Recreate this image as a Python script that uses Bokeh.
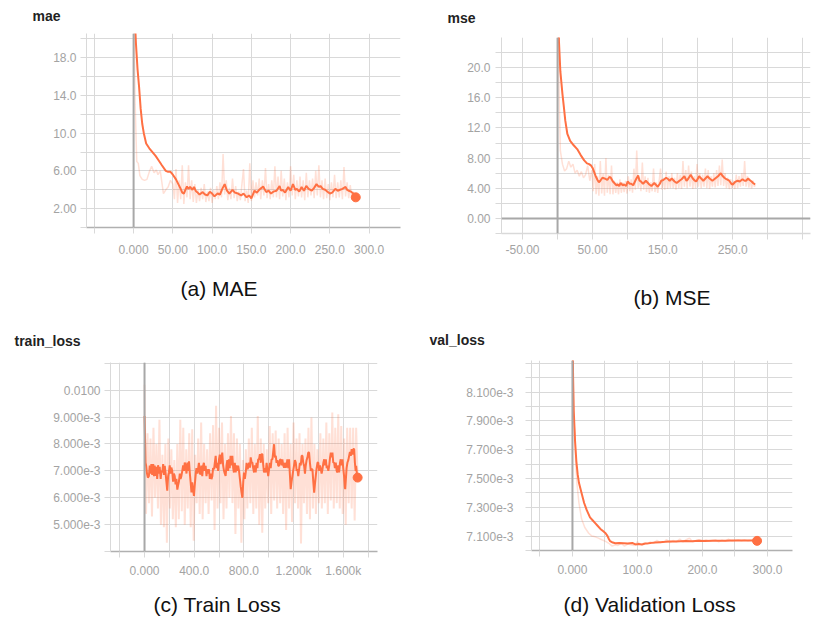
from bokeh.plotting import figure
from bokeh.models import Range1d, FixedTicker, CustomJSTickFormatter, Span, Title
from bokeh.layouts import column, row
from bokeh.embed import file_html
from bokeh.resources import INLINE

# ---------------- data ----------------
# (a) mae : (step, value)
mae_smooth = [(0, 25.0), (3, 19.5), (5, 16.8), (7, 14.9), (9, 12.6), (11, 11.0), (13, 10.0), (16, 8.9), (20, 8.4), (24, 8.0),
              (28, 7.6), (32, 7.1), (36, 6.6), (41, 6.0), (44, 5.9), (47, 5.9), (50, 5.6), (54, 5.1), (57, 4.6), (60, 4.1),
              (62, 3.7), (64, 3.6), (66, 4.0), (68, 4.35), (70, 4.1), (72, 4.3), (75, 4.0), (77, 4.3), (79, 3.9), (81, 3.75),
              (84, 3.5), (88, 3.75), (91, 3.5), (94, 3.4), (97, 3.8), (100, 3.6), (103, 3.3), (107, 3.6), (110, 3.5), (113, 4.1),
              (116, 4.6), (119, 3.9), (122, 3.6), (126, 4.0), (129, 3.7), (133, 3.6), (137, 3.4), (140, 3.6), (144, 3.2), (147, 3.4),
              (150, 3.1), (154, 3.9), (157, 3.7), (160, 4.0), (163, 4.2), (165, 4.35), (169, 3.75), (172, 3.9), (175, 3.6), (178, 3.8),
              (182, 3.9), (186, 4.4), (188, 3.9), (190, 4.0), (193, 3.7), (197, 4.3), (200, 3.9), (203, 4.6), (206, 4.0), (208, 4.1),
              (211, 3.8), (214, 4.3), (217, 3.9), (220, 4.4), (223, 4.1), (227, 3.9), (230, 4.2), (233, 4.6), (236, 4.3), (238, 4.4),
              (241, 4.1), (244, 4.0), (247, 3.8), (250, 3.6), (253, 3.7), (257, 4.1), (260, 3.9), (263, 4.0), (266, 4.1), (270, 4.3),
              (272, 4.0), (274, 3.9), (277, 3.8), (280, 3.6), (283, 3.2)]
mae_raw = [(0, 25.0), (2, 13.0), (4, 7.0), (6, 6.8), (8, 5.5), (11, 5.1), (14, 5.0), (17, 5.1), (20, 5.9), (23, 6.5),
           (26, 5.8), (29, 6.1), (31, 5.6), (34, 6.0), (36, 4.8), (38, 3.6), (41, 4.0), (44, 4.3), (47, 5.0), (50, 4.6),
           (52, 3.0), (54, 6.2), (56, 2.6), (58, 5.0), (60, 3.0), (62, 6.6), (64, 2.5), (66, 4.8), (68, 3.2), (70, 6.6),
           (72, 3.0), (74, 5.0), (76, 2.7), (78, 4.6), (80, 2.6), (82, 4.0), (84, 2.8), (86, 4.2), (88, 3.0), (90, 4.6),
           (92, 2.7), (94, 3.8), (96, 2.8), (98, 4.2), (100, 2.6), (102, 4.0), (104, 3.0), (106, 4.4), (108, 3.0), (110, 4.8),
           (112, 3.2), (114, 7.8), (116, 3.5), (118, 5.0), (120, 2.9), (122, 4.2), (124, 3.0), (126, 5.2), (128, 3.1), (130, 4.4),
           (132, 2.8), (134, 3.8), (136, 2.9), (138, 4.6), (140, 6.2), (142, 2.8), (144, 3.9), (146, 2.6), (148, 6.8), (150, 2.8),
           (152, 5.0), (154, 3.2), (156, 4.8), (158, 3.4), (160, 5.2), (162, 3.0), (164, 5.0), (166, 3.4), (168, 6.3), (170, 3.1),
           (172, 4.6), (174, 3.0), (176, 5.0), (178, 3.2), (180, 6.5), (182, 3.2), (184, 5.4), (186, 3.0), (188, 6.0), (190, 3.3),
           (192, 5.2), (194, 2.9), (196, 4.8), (198, 3.2), (200, 6.5), (202, 3.4), (204, 5.6), (206, 3.0), (208, 5.0), (210, 3.3),
           (212, 5.4), (214, 3.2), (216, 5.0), (218, 2.9), (220, 5.8), (222, 3.2), (224, 5.0), (226, 3.4), (228, 5.2), (230, 3.1),
           (232, 6.0), (234, 3.4), (236, 6.6), (238, 3.2), (240, 5.0), (242, 3.0), (244, 5.2), (246, 3.1), (248, 4.6), (250, 2.9),
           (252, 4.8), (254, 3.2), (256, 5.6), (258, 3.1), (260, 4.8), (262, 3.2), (264, 5.0), (266, 3.0), (268, 6.4), (270, 3.3),
           (272, 4.8), (274, 3.1), (276, 4.5), (278, 3.0), (280, 3.8), (282, 3.1), (283, 3.2)]

# (b) mse
mse_smooth = [(0, 35.0), (2, 23.5), (4, 19.5), (7, 16.5), (9, 14.8), (11, 13.0), (14, 11.2), (18, 10.3), (23, 9.7), (28, 9.2),
              (33, 8.4), (38, 7.7), (42, 7.3), (45, 7.2), (48, 7.0), (50, 6.7), (54, 5.7), (57, 5.1), (59, 4.8), (61, 5.0),
              (64, 5.4), (67, 5.3), (71, 5.1), (74, 5.5), (76, 5.4), (79, 4.9), (81, 4.7), (84, 4.4), (86, 4.5), (88, 4.3),
              (90, 4.7), (93, 4.4), (95, 4.5), (98, 4.3), (100, 4.9), (103, 4.6), (105, 4.6), (108, 4.4), (112, 5.2), (115, 5.7),
              (117, 5.0), (119, 4.9), (122, 4.6), (126, 5.0), (128, 4.8), (131, 4.5), (134, 4.3), (138, 4.7), (141, 4.4), (143, 4.2),
              (146, 4.6), (148, 5.0), (151, 5.1), (155, 5.4), (158, 5.2), (160, 5.0), (163, 5.3), (167, 4.9), (170, 4.7), (174, 5.0),
              (177, 5.2), (181, 5.6), (184, 5.0), (186, 5.2), (190, 5.8), (193, 5.3), (196, 5.0), (198, 4.9), (202, 5.6), (205, 5.3),
              (208, 5.0), (210, 5.2), (214, 5.6), (217, 5.3), (221, 5.0), (225, 5.3), (229, 5.6), (233, 6.0), (235, 5.7), (238, 5.4),
              (241, 5.2), (245, 5.0), (248, 4.6), (250, 4.5), (253, 4.8), (257, 5.0), (260, 4.9), (264, 5.2), (267, 5.0), (269, 5.0),
              (272, 5.3), (274, 5.1), (277, 4.9), (279, 4.7), (282, 4.5)]
mse_raw = [(0, 35.0), (2, 18.0), (4, 9.0), (7, 7.2), (10, 6.3), (13, 6.6), (16, 7.6), (19, 6.8), (22, 7.2), (25, 6.0),
           (28, 6.4), (31, 5.6), (34, 6.2), (37, 5.4), (40, 5.8), (43, 7.0), (46, 5.0), (49, 6.4), (51, 3.6), (53, 7.2),
           (55, 3.2), (57, 5.6), (59, 3.0), (61, 7.6), (63, 3.3), (65, 6.0), (67, 3.0), (69, 8.0), (71, 3.4), (73, 5.8),
           (75, 3.2), (77, 7.0), (79, 3.2), (81, 5.0), (83, 3.4), (85, 4.8), (87, 3.2), (89, 5.2), (91, 3.4), (93, 4.8),
           (95, 3.5), (97, 5.0), (99, 3.3), (101, 5.6), (103, 3.6), (105, 5.2), (107, 3.4), (109, 6.6), (111, 3.8), (113, 9.0),
           (115, 4.0), (117, 5.4), (119, 3.6), (121, 7.4), (123, 3.8), (125, 5.6), (127, 3.5), (129, 5.4), (131, 3.4), (133, 4.8),
           (135, 3.6), (137, 6.6), (139, 3.5), (141, 4.8), (143, 3.4), (145, 5.0), (147, 6.6), (149, 3.8), (151, 5.4), (153, 3.8),
           (155, 6.2), (157, 3.9), (159, 5.6), (161, 4.0), (163, 6.0), (165, 4.0), (167, 5.4), (169, 3.8), (171, 6.0), (173, 4.0),
           (175, 5.8), (177, 3.9), (179, 7.6), (181, 4.2), (183, 6.4), (185, 4.0), (187, 7.0), (189, 4.2), (191, 6.2), (193, 3.9),
           (195, 5.6), (197, 4.0), (199, 7.2), (201, 4.2), (203, 6.0), (205, 4.0), (207, 5.8), (209, 4.2), (211, 6.6), (213, 4.0),
           (215, 6.4), (217, 3.9), (219, 5.6), (221, 4.2), (223, 6.0), (225, 4.1), (227, 6.4), (229, 4.3), (231, 7.0), (233, 4.4),
           (235, 7.8), (237, 4.3), (239, 6.0), (241, 4.0), (243, 5.4), (245, 3.9), (247, 5.2), (249, 4.0), (251, 5.0), (253, 3.9),
           (255, 5.8), (257, 4.0), (259, 5.6), (261, 4.2), (263, 6.0), (265, 4.3), (267, 7.6), (269, 4.2), (271, 5.6), (273, 4.1),
           (275, 5.2), (277, 4.0), (279, 5.0), (281, 4.2), (282, 4.5)]

# (c) train_loss, values in units of 1e-3
train_smooth_e3 = [(0, 9.04), (4, 8.2), (8, 7.3), (13, 7.19), (20, 6.9), (27, 6.75), (35, 6.8), (42, 7.2), (50, 6.9), (55, 7.25),
    (62, 6.85), (70, 7.25), (76, 6.8), (82, 7.2), (89, 6.81), (96, 7.15), (102, 6.7), (109, 7.21), (116, 6.9), (122, 7.15),
    (130, 6.7), (136, 7.0), (143, 6.94), (150, 7.25), (156, 6.85), (163, 7.19), (170, 6.9), (176, 6.6), (183, 6.26), (190, 6.8),
    (196, 6.94), (203, 7.2), (210, 6.9), (216, 7.12), (223, 7.0), (230, 6.6), (237, 6.9), (243, 6.81), (250, 6.5), (257, 6.7),
    (264, 6.3), (270, 6.45), (277, 6.6), (284, 6.9), (290, 6.7), (297, 6.81), (304, 7.0), (311, 7.2), (318, 7.0), (324, 7.31),
    (331, 7.19), (338, 6.9), (345, 7.31), (351, 7.0), (358, 7.35), (365, 6.9), (371, 6.6), (378, 6.2), (384, 6.57), (391, 6.3),
    (398, 6.07), (405, 6.5), (411, 6.81), (418, 7.1), (425, 6.9), (431, 7.06), (438, 7.3), (445, 6.9), (452, 6.88), (458, 7.2),
    (465, 6.8), (472, 7.19), (478, 7.3), (485, 7.0), (492, 7.19), (499, 6.8), (505, 7.06), (512, 6.9), (519, 7.06), (526, 6.7),
    (532, 6.9), (539, 6.69), (546, 6.8), (552, 7.1), (560, 7.06), (566, 7.3), (573, 7.56), (580, 7.1), (586, 7.3), (593, 7.0),
    (600, 7.43), (606, 7.6), (613, 7.25), (620, 7.5), (626, 7.68), (633, 7.2), (640, 7.0), (646, 6.9), (653, 6.81), (660, 7.2),
    (667, 7.4), (673, 7.0), (680, 7.43), (686, 7.1), (693, 7.56), (700, 7.2), (707, 7.56), (714, 7.1), (720, 6.94), (727, 7.3),
    (734, 6.94), (740, 7.2), (747, 7.0), (754, 7.19), (761, 7.0), (768, 6.7), (775, 6.4), (781, 6.2), (788, 6.0), (795, 6.6),
    (801, 6.94), (808, 6.7), (815, 6.94), (822, 7.3), (828, 7.06), (835, 7.12), (842, 7.3), (849, 7.12), (855, 7.5), (862, 7.31),
    (868, 7.31), (875, 7.1), (882, 6.94), (889, 7.2), (895, 6.94), (902, 7.3), (909, 7.1), (915, 7.43), (922, 7.43), (929, 7.62),
    (936, 7.3), (942, 7.62), (949, 7.62), (956, 7.2), (962, 6.94), (969, 7.1), (976, 6.94), (983, 7.3), (989, 7.06), (996, 6.8),
    (1003, 7.06), (1010, 7.3), (1016, 7.1), (1023, 7.43), (1030, 7.43), (1036, 7.7), (1043, 7.99), (1050, 7.5), (1057, 7.56), (1063, 7.3),
    (1070, 7.4), (1077, 7.19), (1083, 7.19), (1090, 7.4), (1097, 7.43), (1103, 7.2), (1110, 7.43), (1117, 7.2), (1124, 7.12), (1130, 7.3),
    (1137, 7.12), (1144, 7.2), (1150, 7.43), (1157, 7.1), (1164, 7.43), (1170, 6.9), (1177, 6.32), (1184, 6.6), (1191, 6.81), (1197, 7.0),
    (1204, 7.2), (1211, 7.4), (1218, 7.31), (1225, 7.0), (1231, 7.06), (1238, 6.8), (1245, 7.06), (1251, 7.3), (1258, 7.2), (1265, 7.56),
    (1272, 7.56), (1278, 7.3), (1285, 7.19), (1292, 6.9), (1298, 7.19), (1305, 7.4), (1312, 7.5), (1318, 7.68), (1325, 7.68), (1332, 7.3),
    (1339, 7.0), (1345, 7.06), (1352, 7.06), (1359, 6.6), (1366, 6.19), (1372, 6.5), (1379, 6.81), (1386, 7.1), (1393, 7.3), (1399, 7.31),
    (1406, 7.0), (1413, 7.2), (1420, 7.06), (1426, 6.9), (1433, 7.06), (1440, 7.3), (1447, 7.43), (1453, 7.2), (1460, 7.43), (1467, 7.1),
    (1473, 7.19), (1480, 7.0), (1487, 7.19), (1494, 7.5), (1500, 7.68), (1507, 7.5), (1513, 7.68), (1520, 7.3), (1527, 7.31), (1533, 7.1),
    (1540, 7.31), (1547, 7.0), (1554, 6.94), (1560, 7.2), (1567, 6.94), (1574, 7.3), (1580, 7.43), (1587, 7.2), (1594, 7.43), (1600, 7.1),
    (1607, 6.8), (1613, 6.4), (1616, 6.32), (1620, 6.6), (1627, 7.1), (1634, 7.31), (1641, 7.4), (1648, 7.56), (1654, 7.7), (1661, 7.56),
    (1668, 7.81), (1674, 7.6), (1681, 7.81), (1688, 7.81), (1694, 7.3), (1700, 7.0), (1704, 7.19), (1710, 6.9), (1716, 6.75)]
train_raw_steps = list(range(0, 1717, 12))
train_raw_e3 = [10.2, 5.4, 8.4, 5.8, 8.2, 5.3, 8.6, 6.0, 8.0, 5.6,
                8.9, 5.0, 7.6, 4.9, 8.0, 4.33, 8.2, 5.6, 7.8, 5.2,
                7.4, 4.9, 8.0, 5.2, 8.9, 5.5, 8.6, 5.0, 7.8, 5.6,
                8.4, 4.9, 8.55, 4.4, 7.6, 5.8, 8.2, 5.4, 8.8, 5.2,
                8.0, 5.8, 7.8, 5.4, 8.4, 5.9, 8.7, 4.8, 9.42, 5.6,
                8.6, 5.8, 8.8, 5.2, 8.0, 5.6, 8.4, 6.0, 9.04, 5.8,
                8.4, 4.65, 8.2, 5.6, 8.0, 4.33, 7.4, 5.2, 7.8, 5.6,
                8.2, 5.8, 8.6, 5.4, 8.0, 5.6, 9.04, 5.0, 8.2, 4.7,
                8.0, 5.6, 7.8, 5.8, 8.67, 5.4, 8.4, 5.9, 8.5, 5.6,
                8.2, 5.8, 8.0, 5.4, 8.4, 4.8, 8.6, 5.6, 8.0, 5.1,
                8.8, 5.8, 8.2, 5.6, 8.4, 4.3, 8.0, 5.8, 8.2, 5.4,
                8.6, 5.2, 8.98, 5.6, 8.0, 5.4, 7.8, 5.8, 8.4, 5.6,
                8.2, 5.8, 8.8, 5.4, 8.4, 5.9, 9.17, 5.6, 8.6, 5.8,
                9.1, 5.6, 8.67, 5.4, 8.2, 5.0, 8.6, 5.8, 8.6, 5.6,
                8.6, 5.15, 8.6, 6.75]

# (d) val_loss, values in units of 1e-3
val_smooth_e3 = [(0, 8.60), (1, 8.20), (2, 7.97), (4, 7.76), (6, 7.62), (8, 7.53), (10, 7.47), (14, 7.40), (18, 7.33), (22, 7.28),
                 (27, 7.23), (31, 7.21), (35, 7.19), (39, 7.17), (43, 7.15), (47, 7.135), (51, 7.12), (54, 7.10), (56, 7.08), (58, 7.065),
                 (62, 7.055), (66, 7.05), (72, 7.052), (79, 7.05), (85, 7.048), (92, 7.052), (97, 7.042), (102, 7.045), (107, 7.042), (112, 7.048),
                 (117, 7.05), (122, 7.053), (127, 7.055), (135, 7.058), (143, 7.06), (150, 7.062), (158, 7.063), (166, 7.065), (174, 7.066), (184, 7.065),
                 (194, 7.067), (204, 7.066), (215, 7.068), (225, 7.067), (235, 7.068), (245, 7.069), (256, 7.07), (266, 7.069), (277, 7.07), (284, 7.067)]
val_raw_e3 = [(0, 8.60), (1, 8.18), (2, 7.90), (4, 7.81), (5, 7.60), (7, 7.46), (10, 7.33), (14, 7.22), (19, 7.16), (25, 7.12),
              (30, 7.10), (35, 7.095), (40, 7.086), (45, 7.075), (51, 7.063), (56, 7.05), (61, 7.03), (66, 7.04), (70, 7.035), (75, 7.05),
              (80, 7.03), (85, 7.045), (90, 7.04), (95, 7.035), (100, 7.06), (105, 7.04), (110, 7.05), (115, 7.045), (120, 7.06), (125, 7.05),
              (130, 7.07), (135, 7.055), (140, 7.06), (145, 7.075), (150, 7.055), (155, 7.07), (160, 7.06), (165, 7.08), (170, 7.06), (175, 7.075),
              (180, 7.085), (185, 7.06), (190, 7.07), (195, 7.075), (200, 7.065), (205, 7.075), (210, 7.065), (215, 7.07), (220, 7.075), (225, 7.06),
              (230, 7.072), (235, 7.065), (240, 7.078), (245, 7.065), (250, 7.07), (255, 7.075), (260, 7.068), (265, 7.074), (270, 7.067), (275, 7.072),
              (280, 7.07), (284, 7.067)]

E3 = 1e-3

# tick positions
mae_x_ticks, mae_x_minor = [0, 50, 100, 150, 200, 250, 300], [-50]
mae_y_ticks, mae_y_minor = [2, 6, 10, 14, 18], [0, 4, 8, 12, 16, 20]
mse_x_ticks, mse_x_minor = [-50, 50, 150, 250], [0, 100, 200, 300, 350]
mse_y_ticks, mse_y_minor = [0, 4, 8, 12, 16, 20], [-2, 2, 6, 10, 14, 18, 22]
train_x_ticks, train_x_minor = [0, 400, 800, 1200, 1600], [-200, 200, 600, 1000, 1400, 1800]
train_y_ticks = [5e-3, 6e-3, 7e-3, 8e-3, 9e-3, 10e-3]
train_y_minor = [4e-3, 11e-3]
val_x_ticks, val_x_minor = [0, 100, 200, 300], [-50, 50, 150, 250]
val_y_ticks = [7.1e-3, 7.3e-3, 7.5e-3, 7.7e-3, 7.9e-3, 8.1e-3]
val_y_minor = [7.0e-3, 7.2e-3, 7.4e-3, 7.6e-3, 7.8e-3, 8.0e-3, 8.2e-3, 8.3e-3]

# ---------------- styling ----------------
LINE = "#ff7043"
GRID = "#d9d9d9"
ZERO = "#a8a8a8"
TICK_TXT = "#a3a3a3"
FONT = "Liberation Sans"

fmt4 = CustomJSTickFormatter(code="return tick.toPrecision(4);")
fmt3 = CustomJSTickFormatter(code="return tick.toPrecision(3);")
fmtk = CustomJSTickFormatter(code="return Math.abs(tick) >= 1000 ? (tick/1000).toPrecision(4) + 'k' : tick.toPrecision(4);")
fmte3 = CustomJSTickFormatter(code="return tick >= 0.00999 ? tick.toPrecision(3) : (tick*1000).toFixed(3) + 'e-3';")


def unzip(pairs, scale=1.0):
    return [p[0] for p in pairs], [p[1] * scale for p in pairs]


def make_panel(width, height, borders, xr, yr, xt, xm, yt, ym, xfmt, yfmt, xstand, ystand, base_color,
               name, name_off, name_standoff, caption, cap_off, cap_gap):
    left, right, top, bottom = borders
    p = figure(width=width, height=height, x_range=Range1d(*xr), y_range=Range1d(*yr),
               output_backend="svg", toolbar_location=None, title=name,
               min_border_left=left, min_border_right=right, min_border_top=top, min_border_bottom=bottom)
    p.frame_align = False
    p.outline_line_color = None
    # panel name (top-left)
    p.title.text_font = FONT
    p.title.text_font_size = "14px"
    p.title.text_font_style = "bold"
    p.title.text_color = "#222222"
    p.title.align = "left"
    p.title.offset = name_off
    p.title.vertical_align = "top"
    p.title.standoff = name_standoff
    # axes
    p.xaxis.ticker = FixedTicker(ticks=xt, minor_ticks=xm)
    p.yaxis.ticker = FixedTicker(ticks=yt, minor_ticks=ym)
    p.xaxis.formatter = xfmt
    p.yaxis.formatter = yfmt
    for ax in (p.xaxis[0], p.yaxis[0]):
        ax.major_tick_in = 0
        ax.major_tick_out = 6
        ax.minor_tick_in = 0
        ax.minor_tick_out = 6
        ax.major_tick_line_color = GRID
        ax.minor_tick_line_color = GRID
        ax.major_label_text_font = FONT
        ax.major_label_text_font_size = "12px"
        ax.major_label_text_color = TICK_TXT
    p.xaxis.major_label_standoff = xstand
    p.yaxis.major_label_standoff = ystand
    p.xaxis.axis_line_color = base_color
    p.xaxis.axis_line_width = 1.5
    p.yaxis.axis_line_color = GRID
    for g in (p.xgrid[0], p.ygrid[0]):
        g.grid_line_color = GRID
        g.minor_grid_line_color = GRID
        g.grid_line_width = 1
    p.add_layout(Span(location=0, dimension="height", line_color=ZERO, line_width=2))
    # blank spacer, then the caption below it
    p.add_layout(Title(text=" ", text_font_size="1px", standoff=cap_gap), "below")
    p.add_layout(Title(text=caption, align="left", offset=cap_off, vertical_align="bottom", standoff=0,
                       text_font=FONT, text_font_size="21px", text_font_style="normal",
                       text_color="#111111"), "below")
    return p


def add_series(p, raw_x, raw_y, sm_x, sm_y, raw_width=1.5, dot=True):
    p.line(raw_x, raw_y, line_color=LINE, line_alpha=0.22, line_width=raw_width)
    p.line(sm_x, sm_y, line_color=LINE, line_width=2)
    if dot:
        p.scatter([sm_x[-1]], [sm_y[-1]], size=9, fill_color=LINE, line_color=LINE)


# (a) MAE
pa = make_panel(410, 320, (86, 10, 33, 93), (-60, 340), (0, 20.57),
                mae_x_ticks, mae_x_minor, mae_y_ticks, mae_y_minor, fmt4, fmt3, 11, 4, "#b0b0b0",
                "mae", -54, 15, "(a) MAE", 94, 15)
rx, ry = unzip(mae_raw)
sx, sy = unzip(mae_smooth)
add_series(pa, rx, ry, sx, sy)

# (b) MSE
pb = make_panel(407, 320, (91, 7, 37, 87), (-80, 361), (-2, 24),
                mse_x_ticks, mse_x_minor, mse_y_ticks, mse_y_minor, fmt4, fmt3, 5, 5, GRID,
                "mse", -54, 19, "(b) MSE", 132, 24)
pb.add_layout(Span(location=0, dimension="width", line_color=ZERO, line_width=2))
rx, ry = unzip(mse_raw)
sx, sy = unzip(mse_smooth)
add_series(pb, rx, ry, sx, sy, dot=False)

# (c) Train loss
pc = make_panel(410, 300, (110, 33, 42, 69), (-274, 1876), (4.0e-3, 11.03e-3),
                train_x_ticks, train_x_minor, train_y_ticks, train_y_minor, fmtk, fmte3, 6, 4, "#b0b0b0",
                "train_loss", -96, 24, "(c) Train Loss", 43, 7)
sx, sy = unzip(train_smooth_e3, E3)
add_series(pc, train_raw_steps, [v * E3 for v in train_raw_e3], sx, sy, raw_width=2)

# (d) Validation loss
pd_ = make_panel(407, 300, (121, 25, 40, 70), (-63, 338.5), (7.0e-3, 8.32e-3),
                 val_x_ticks, val_x_minor, val_y_ticks, val_y_minor, fmt4, fmte3, 8, 12, "#b0b0b0",
                 "val_loss", -102, 22, "(d) Validation Loss", 32, 11)
rx, ry = unzip(val_raw_e3, E3)
sx, sy = unzip(val_smooth_e3, E3)
add_series(pd_, rx, ry, sx, sy)

layout = column(row(pa, pb), row(pc, pd_))
open("out.html", "w").write(file_html(layout, INLINE))
